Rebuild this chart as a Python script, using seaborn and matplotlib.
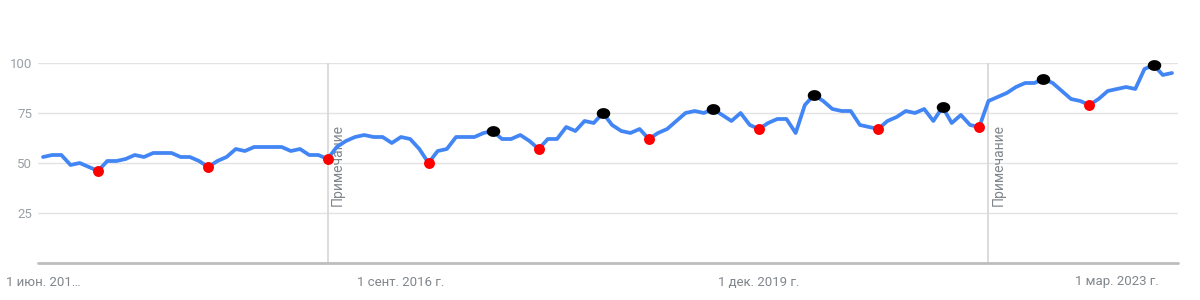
import numpy as np
import pandas as pd
import matplotlib
matplotlib.use("Agg")
import matplotlib.pyplot as plt
from matplotlib.path import Path
import seaborn as sns

# ---------------- data ----------------
start_month = "2013-06-01"
values = [53, 54, 54, 49, 50, 48, 46, 51, 51, 52, 54, 53, 55, 55, 55, 53,
          53, 51, 48, 51, 53, 57, 56, 58, 58, 58, 58, 56, 57, 54, 54, 52,
          58, 61, 63, 64, 63, 63, 60, 63, 62, 57, 50, 56, 57, 63, 63, 63,
          65, 66, 62, 62, 64, 61, 57, 62, 62, 68, 66, 71, 70, 75, 69, 66,
          65, 67, 62, 65, 67, 71, 75, 76, 75, 77, 74, 71, 75, 69, 67, 70,
          72, 72, 65, 79, 84, 81, 77, 76, 76, 69, 68, 67, 71, 73, 76, 75,
          77, 71, 78, 70, 74, 69, 68, 81, 83, 85, 88, 90, 90, 92, 90, 86,
          82, 81, 79, 82, 86, 87, 88, 87, 97, 99, 94, 95]
red_months = ["2013-12-01", "2014-12-01", "2016-01-01", "2016-12-01", "2017-12-01",
              "2018-12-01", "2019-12-01", "2021-01-01", "2021-12-01", "2022-12-01"]
black_months = ["2017-07-01", "2018-07-01", "2019-07-01", "2020-06-01", "2021-08-01",
                "2022-07-01", "2023-07-01"]
note_months = ["2016-01-01", "2022-01-01"]
note_text = "Примечание"
tick_months = ["2013-06-01", "2016-09-01", "2019-12-01", "2023-03-01"]
tick_labels = ["1 июн. 201…", "1 сент. 2016 г.", "1 дек. 2019 г.", "1 мар. 2023 г."]
y_ticks = [25, 50, 75, 100]

# ---------------- frame ----------------
months = pd.date_range(start_month, periods=len(values), freq="MS")
df = pd.DataFrame({"month": months, "value": values})
df["idx"] = np.arange(len(df))
pos = {m: i for i, m in enumerate(months)}

def to_idx(lst):
    return [pos[pd.Timestamp(m)] for m in lst]

red_df = df.iloc[to_idx(red_months)]
black_df = df.iloc[to_idx(black_months)]

sns.set_style("white")
plt.rcParams["font.family"] = ["Roboto", "DejaVu Sans"]

fig = plt.figure(figsize=(12, 3), dpi=100)
ax = fig.add_axes([38 / 1200, 1 - 263 / 300, (1178 - 38) / 1200, (263 - 63) / 300])

# grid lines
for yv in y_ticks:
    ax.axhline(yv, color="#e3e3e3", lw=1.0, zorder=0)
ax.axhline(0, color="#bdbdbd", lw=2.0, zorder=1, clip_on=False)

# annotation lines
for m in note_months:
    xi = pos[pd.Timestamp(m)]
    ax.axvline(xi, color="#d6d6d6", lw=1.2, zorder=0.5)
    ax.text(xi + 0.35, 28.5, note_text, rotation=90, ha="left", va="bottom",
            fontsize=10, color="#80868b", zorder=2)

sns.lineplot(data=df, x="idx", y="value", ax=ax, color="#4285f4", lw=2.7,
             zorder=3, clip_on=False)
sns.scatterplot(data=red_df, x="idx", y="value", ax=ax, color="#ff0000", s=62,
                linewidth=0, zorder=4, clip_on=False)

# slightly wide blob for the black marks
theta = np.linspace(0, 2 * np.pi, 40)
blob = Path(np.column_stack([1.15 * np.cos(theta), 0.92 * np.sin(theta)]), closed=True)
sns.scatterplot(data=black_df, x="idx", y="value", ax=ax, color="black", s=95,
                marker=blob, linewidth=0, zorder=5, clip_on=False)

ax.set_ylim(0, 100)
ax.set_xlim(-5 / 9.18, len(values) - 1 + 6 / 9.18)
ax.set_yticks(y_ticks)
ax.set_yticklabels([str(v) for v in y_ticks], fontsize=9.5, color="#9aa0a6")
ax.set_xticks(to_idx(tick_months))
ax.set_xticklabels(tick_labels, fontsize=9.5, color="#80868b")
ax.tick_params(axis="both", length=0)
ax.tick_params(axis="x", pad=9)
ax.tick_params(axis="y", pad=4)
ax.set_xlabel("")
ax.set_ylabel("")
for s in ax.spines.values():
    s.set_visible(False)
ax.grid(False)
if ax.get_legend():
    ax.get_legend().remove()

fig.savefig("out.png", dpi=100, facecolor="white")
